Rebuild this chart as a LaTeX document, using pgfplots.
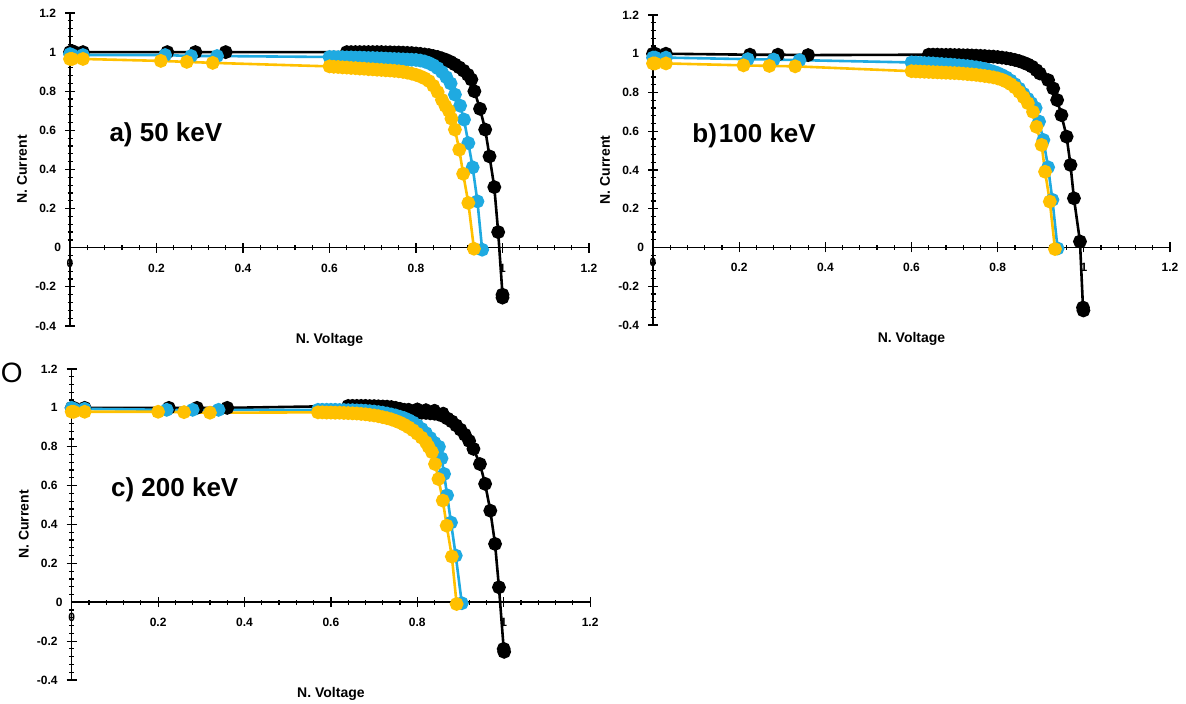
\documentclass[border=0pt]{standalone}
\usepackage{fontspec}
\setmainfont{Liberation Sans}
\usepackage{pgfplots}
\pgfplotsset{compat=1.18}
\definecolor{cblue}{HTML}{1FAAE1}
\definecolor{cyel}{HTML}{FFC000}
\newcommand{\tfont}{\fontsize{6}{7}\selectfont\bfseries}
\pgfplotsset{
  panel/.style={
    scale only axis, axis lines=middle, anchor=south west,
    xmin=0, xmax=1.2, ymin=-0.4, ymax=1.2,
    xtick={0,0.2,0.4,0.6,0.8,1,1.2},
    xticklabels={0,0.2,0.4,0.6,0.8,1,1.2},
    ytick={-0.4,-0.2,0,0.2,0.4,0.6,0.8,1,1.2},
    yticklabels={-0.4,-0.2,0,0.2,0.4,0.6,0.8,1,1.2},
    minor x tick num=4, minor y tick num=4,
    tick align=center, major tick length=5pt, minor tick length=2.5pt,
    every tick/.style={black, line width=0.6pt},
    axis line style={black, line width=0.75pt, -},
    every inner x axis line/.append style={-},
    every inner y axis line/.append style={-},
    tick label style={font=\tfont},
    xticklabel style={yshift=-2pt},
    yticklabel style={xshift=-1pt},
    xlabel={N. Voltage}, ylabel={N. Current},
    xlabel style={at={(rel axis cs:0.5,0)}, anchor=center, yshift=-7pt, font=\fontsize{7}{8}\selectfont\bfseries},
    ylabel style={at={(rel axis cs:0,0.5)}, anchor=center, xshift=-24pt, rotate=90, font=\fontsize{7}{8}\selectfont\bfseries},
    clip=false,
  },
  ser/.style={line width=1.3pt, color=#1, mark=*, mark size=2.8pt, mark options={solid, fill=#1, draw=#1}},
}
\newcommand{\zeros}{%
  \node[anchor=east, xshift=-1pt, font=\tfont] at (axis cs:0,0) {0};
  \node[anchor=north, yshift=-2pt, font=\tfont] at (axis cs:0,0) {0};
}
\begin{document}
\begin{tikzpicture}
\useasboundingbox (0,0) rectangle (593pt,352pt);
% ---------------- panel a
\begin{axis}[panel, at={(35pt,189pt)}, width=259.5pt, height=156.5pt]
\addplot[ser=black] coordinates {
(0,1.0)(0.005,1.005)(0.01,1.0)(0.03,1.0)(0.225,1.0)(0.29,1.0)(0.36,1.0)
(0.64,1.0)(0.65,1.0)(0.66,1.0)(0.67,1.0)(0.68,1.0)(0.69,1.0)(0.70,1.0)(0.71,1.0)(0.72,1.0)
(0.73,0.999)(0.74,0.999)(0.75,0.998)(0.76,0.998)(0.77,0.997)(0.78,0.996)(0.79,0.995)(0.80,0.993)
(0.81,0.991)(0.82,0.988)(0.83,0.985)(0.84,0.98)(0.85,0.975)(0.86,0.968)(0.87,0.96)(0.88,0.95)
(0.89,0.937)(0.90,0.922)(0.91,0.905)(0.92,0.884)(0.928,0.86)
(0.935,0.80)(0.948,0.71)(0.96,0.604)(0.97,0.467)(0.981,0.31)(0.99,0.08)(1.0,-0.24)(1.0,-0.255)};
\addplot[ser=cblue] coordinates {
(0,0.99)(0.005,0.985)(0.03,0.985)(0.22,0.985)(0.28,0.98)(0.34,0.98)
(0.60,0.975)(0.61,0.975)(0.62,0.974)(0.63,0.974)(0.64,0.973)(0.65,0.973)(0.66,0.972)(0.67,0.972)
(0.68,0.971)(0.69,0.97)(0.70,0.97)(0.71,0.969)(0.72,0.968)(0.73,0.967)(0.74,0.966)(0.75,0.965)
(0.76,0.964)(0.77,0.963)(0.78,0.962)(0.79,0.961)(0.80,0.96)(0.81,0.957)(0.82,0.952)(0.83,0.944)
(0.84,0.933)(0.85,0.918)(0.86,0.898)(0.87,0.872)(0.88,0.84)
(0.89,0.783)(0.902,0.726)(0.911,0.655)(0.921,0.535)(0.931,0.411)(0.942,0.237)(0.953,-0.01)};
\addplot[ser=cyel] coordinates {
(0,0.965)(0.005,0.965)(0.03,0.965)(0.21,0.955)(0.27,0.95)(0.33,0.945)
(0.60,0.927)(0.61,0.925)(0.62,0.924)(0.63,0.922)(0.64,0.921)(0.65,0.919)(0.66,0.918)(0.67,0.916)
(0.68,0.915)(0.69,0.913)(0.70,0.912)(0.71,0.91)(0.72,0.909)(0.73,0.907)(0.74,0.906)(0.75,0.904)
(0.76,0.902)(0.77,0.899)(0.78,0.895)(0.79,0.89)(0.80,0.884)(0.81,0.876)(0.82,0.866)(0.83,0.852)
(0.84,0.828)(0.85,0.796)(0.86,0.756)(0.868,0.725)
(0.876,0.70)(0.882,0.66)(0.89,0.604)(0.9,0.501)(0.909,0.378)(0.921,0.229)(0.934,-0.005)};
\node[anchor=west, font=\fontsize{13}{14}\selectfont\bfseries] at (axis cs:0.075,0.575) {a) 50 keV};
\zeros
\end{axis}
% ---------------- panel b
\begin{axis}[panel, at={(326.5pt,189.5pt)}, width=258.5pt, height=155pt]
\addplot[ser=black] coordinates {
(0,1.0)(0.005,1.0)(0.03,1.0)(0.225,0.995)(0.29,0.995)(0.36,0.993)
(0.64,0.995)(0.65,0.995)(0.66,0.995)(0.67,0.994)(0.68,0.994)(0.69,0.994)(0.70,0.993)(0.71,0.993)
(0.72,0.992)(0.73,0.992)(0.74,0.991)(0.75,0.99)(0.76,0.989)(0.77,0.988)(0.78,0.986)(0.79,0.985)
(0.80,0.983)(0.81,0.98)(0.82,0.977)(0.83,0.973)(0.84,0.968)(0.85,0.962)(0.86,0.954)(0.87,0.945)
(0.88,0.933)(0.89,0.915)
(0.898,0.898)(0.917,0.864)(0.929,0.821)(0.938,0.761)(0.948,0.683)(0.96,0.572)(0.969,0.426)
(0.977,0.254)(0.991,0.031)(0.998,-0.31)(0.999,-0.325)};
\addplot[ser=cblue] coordinates {
(0,0.98)(0.005,0.98)(0.03,0.98)(0.22,0.972)(0.28,0.97)(0.34,0.967)
(0.60,0.955)(0.61,0.954)(0.62,0.953)(0.63,0.952)(0.64,0.951)(0.65,0.95)(0.66,0.948)(0.67,0.947)
(0.68,0.945)(0.69,0.944)(0.70,0.942)(0.71,0.94)(0.72,0.938)(0.73,0.936)(0.74,0.933)(0.75,0.93)
(0.76,0.926)(0.77,0.921)(0.78,0.915)(0.79,0.908)(0.80,0.9)(0.81,0.89)(0.82,0.878)(0.83,0.862)
(0.84,0.843)(0.85,0.82)(0.86,0.793)(0.87,0.767)(0.878,0.745)
(0.888,0.72)(0.896,0.65)(0.906,0.555)(0.917,0.414)(0.927,0.246)(0.939,-0.005)};
\addplot[ser=cyel] coordinates {
(0,0.95)(0.005,0.95)(0.03,0.95)(0.21,0.94)(0.27,0.937)(0.33,0.935)
(0.60,0.91)(0.61,0.909)(0.62,0.908)(0.63,0.907)(0.64,0.906)(0.65,0.905)(0.66,0.904)(0.67,0.903)
(0.68,0.902)(0.69,0.901)(0.70,0.9)(0.71,0.899)(0.72,0.897)(0.73,0.895)(0.74,0.893)(0.75,0.891)
(0.76,0.888)(0.77,0.885)(0.78,0.882)(0.79,0.878)(0.80,0.873)(0.81,0.866)(0.82,0.856)(0.83,0.843)
(0.84,0.826)(0.85,0.803)(0.86,0.776)(0.87,0.745)
(0.882,0.70)(0.89,0.623)(0.902,0.529)(0.91,0.391)(0.921,0.237)(0.933,-0.008)};
\node[anchor=west, font=\fontsize{13}{14}\selectfont\bfseries] at (axis cs:0.075,0.575) {b)\hspace{1pt}100 keV};
\zeros
\end{axis}
% ---------------- panel c
\begin{axis}[panel, at={(35.85pt,12pt)}, width=259.2pt, height=155.5pt]
\addplot[ser=black] coordinates {
(0,1.0)(0.005,1.0)(0.03,1.0)(0.225,1.0)(0.29,1.0)(0.36,1.0)
(0.64,1.01)(0.65,1.01)(0.66,1.01)(0.67,1.01)(0.68,1.01)(0.69,1.009)(0.70,1.009)(0.71,1.008)
(0.72,1.007)(0.73,1.006)(0.74,1.004)(0.75,1.0)(0.76,0.995)(0.77,0.99)(0.78,0.985)(0.79,0.98)
(0.80,0.977)(0.81,0.975)(0.82,0.974)(0.83,0.972)(0.84,0.97)(0.85,0.966)(0.86,0.958)(0.87,0.945)
(0.88,0.93)(0.89,0.91)(0.90,0.888)(0.91,0.862)(0.92,0.83)
(0.93,0.789)(0.945,0.711)(0.957,0.609)(0.969,0.471)(0.98,0.3)(0.989,0.077)(1.0,-0.24)(1.001,-0.255)};
\addplot[only marks, mark=*, mark size=2.8pt, black] coordinates {
(0.74,1.0)(0.76,0.99)(0.78,0.995)(0.80,0.997)(0.82,0.993)(0.84,0.99)(0.86,0.975)};
\addplot[ser=cblue] coordinates {
(0,1.0)(0.005,0.995)(0.03,0.995)(0.22,0.99)(0.28,0.99)(0.34,0.99)
(0.57,0.99)(0.58,0.99)(0.59,0.99)(0.60,0.99)(0.61,0.99)(0.62,0.989)(0.63,0.989)(0.64,0.988)
(0.65,0.988)(0.66,0.987)(0.67,0.986)(0.68,0.985)(0.69,0.983)(0.70,0.981)(0.71,0.978)(0.72,0.975)
(0.73,0.971)(0.74,0.966)(0.75,0.961)(0.76,0.954)(0.77,0.947)(0.78,0.937)(0.79,0.925)(0.80,0.91)
(0.81,0.892)(0.82,0.87)(0.83,0.845)(0.84,0.82)
(0.85,0.80)(0.856,0.74)(0.862,0.66)(0.869,0.55)(0.878,0.41)(0.889,0.24)(0.903,-0.005)};
\addplot[ser=cyel] coordinates {
(0,0.98)(0.005,0.98)(0.03,0.98)(0.2,0.98)(0.26,0.978)(0.32,0.975)
(0.57,0.977)(0.58,0.977)(0.59,0.976)(0.60,0.976)(0.61,0.975)(0.62,0.975)(0.63,0.974)(0.64,0.973)
(0.65,0.972)(0.66,0.971)(0.67,0.969)(0.68,0.967)(0.69,0.964)(0.70,0.961)(0.71,0.957)(0.72,0.952)
(0.73,0.947)(0.74,0.941)(0.75,0.933)(0.76,0.924)(0.77,0.913)(0.78,0.9)(0.79,0.885)(0.80,0.867)
(0.81,0.847)(0.82,0.823)(0.826,0.80)
(0.834,0.772)(0.841,0.711)(0.849,0.634)(0.859,0.523)(0.868,0.394)(0.88,0.235)(0.891,-0.009)};
\node[anchor=west, font=\fontsize{13}{14}\selectfont\bfseries] at (axis cs:0.075,0.58) {c) 200 keV};
\zeros
\end{axis}
\node[anchor=west, inner sep=0pt, font=\fontsize{14}{15}\selectfont] at (0.3pt,165.5pt) {O};
\end{tikzpicture}
\end{document}
